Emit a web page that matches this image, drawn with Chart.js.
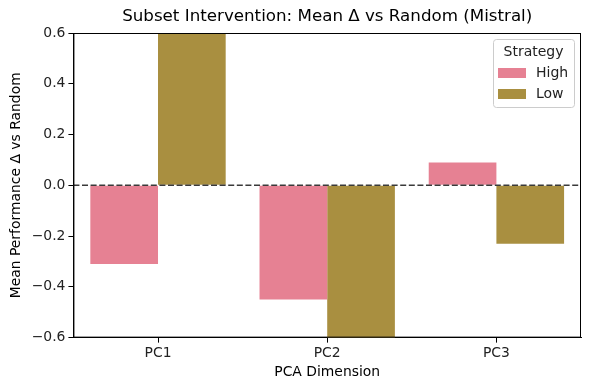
<!DOCTYPE html>
<html>
<head>
<meta charset="utf-8">
<script src="https://cdn.jsdelivr.net/npm/chart.js@4"></script>
<style>
  body { margin: 0; background: #fff; }
  #wrap { width: 590px; height: 390px; }
</style>
</head>
<body>
<div id="wrap"><canvas id="chart" width="590" height="390"></canvas></div>
<script>
// data (Low PC1 / PC2 run past the axis limits)
const categories = ["PC1", "PC2", "PC3"];
const highValues = [-0.31, -0.45, 0.09];
const lowValues = [0.75, -0.72, -0.23];
const seriesNames = ["High", "Low"];
const seriesColors = ["#e68193", "#a98f40"];
const chartTitle = "Subset Intervention: Mean Δ vs Random (Mistral)";

const FONT = "'DejaVu Sans', sans-serif";

// title over the plot, frame, dashed zero line, legend box inside the plot
const extras = {
  id: "extras",
  afterDatasetsDraw(chart) {
    const ctx = chart.ctx;
    const area = chart.chartArea;
    const y0 = chart.scales.y.getPixelForValue(0);

    ctx.save();
    ctx.fillStyle = "#000";
    ctx.font = "16.7px " + FONT;
    ctx.textAlign = "center";
    ctx.textBaseline = "middle";
    ctx.fillText(chartTitle, (area.left + area.right) / 2, area.top - 16);

    ctx.strokeStyle = "#3a3a3a";
    ctx.lineWidth = 1.5;
    ctx.setLineDash([6, 2.6]);
    ctx.beginPath();
    ctx.moveTo(area.left, y0);
    ctx.lineTo(area.right, y0);
    ctx.stroke();
    ctx.setLineDash([]);

    ctx.strokeStyle = "#000";
    ctx.lineWidth = 1;
    ctx.strokeRect(area.left + 0.5, area.top + 0.5, area.right - area.left - 1, area.bottom - area.top - 1);

    // legend
    const bx = area.right - 88, by = area.top + 6, bw = 81, bh = 68;
    ctx.fillStyle = "rgba(255,255,255,0.8)";
    ctx.strokeStyle = "#ccc";
    ctx.beginPath();
    ctx.roundRect(bx + 0.5, by + 0.5, bw, bh, 3);
    ctx.fill();
    ctx.stroke();

    ctx.fillStyle = "#222";
    ctx.font = "14px " + FONT;
    ctx.textAlign = "center";
    ctx.fillText("Strategy", bx + bw / 2, by + 13);

    ctx.textAlign = "left";
    seriesNames.forEach((name, i) => {
      const yy = by + 34 + i * 21;
      ctx.fillStyle = seriesColors[i];
      ctx.fillRect(bx + 5, yy - 5, 28, 10);
      ctx.fillStyle = "#222";
      ctx.fillText(name, bx + 43, yy);
    });
    ctx.restore();
  }
};

const ctx = document.getElementById("chart").getContext("2d");
new Chart(ctx, {
  type: "bar",
  data: {
    labels: categories,
    datasets: [
      { label: seriesNames[0], data: highValues, backgroundColor: seriesColors[0] },
      { label: seriesNames[1], data: lowValues, backgroundColor: seriesColors[1] },
    ],
  },
  options: {
    responsive: false,
    animation: false,
    devicePixelRatio: 1,
    layout: { padding: { top: 33, right: 9, left: 4, bottom: 5 } },
    datasets: { bar: { categoryPercentage: 0.8, barPercentage: 1.0 } },
    plugins: {
      legend: { display: false },
      tooltip: { enabled: false },
      title: { display: false },
    },
    scales: {
      x: {
        grid: { display: true, offset: false, drawOnChartArea: false, color: "#000", tickLength: 5 },
        border: { color: "#000" },
        ticks: { color: "#222", font: { family: FONT, size: 13.9 }, padding: 2 },
        title: { display: true, text: "PCA Dimension", color: "#000", font: { family: FONT, size: 13.9 }, padding: { top: 1 } },
      },
      y: {
        min: -0.6,
        max: 0.6,
        grid: { display: true, drawOnChartArea: false, color: "#000", tickLength: 5 },
        border: { color: "#000" },
        ticks: {
          stepSize: 0.2,
          color: "#222",
          font: { family: FONT, size: 13.9 },
          padding: 3,
          callback: (v) => {
            const s = Math.abs(v) < 1e-9 ? "0.0" : v.toFixed(1);
            return s.replace("-", "\u2212");
          },
        },
        title: { display: true, text: "Mean Performance Δ vs Random", color: "#000", font: { family: FONT, size: 13.9 }, padding: { bottom: 4 } },
      },
    },
  },
  plugins: [extras],
});
</script>
</body>
</html>
